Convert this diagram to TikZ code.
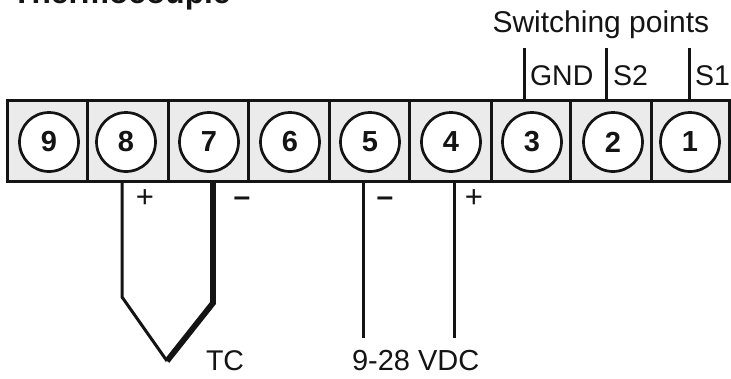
\documentclass[tikz,border=0pt]{standalone}
\usepackage{fontspec}
\setmainfont{Liberation Sans}
\definecolor{ink}{HTML}{141414}
\definecolor{cellgrey}{HTML}{EBEBEB}
\tikzset{
  cellbox/.style={draw=ink,fill=cellgrey,line width=3pt,minimum height=81pt,inner sep=0pt,outer sep=0pt},
  term/.style={circle,draw=ink,fill=white,line width=2.7pt,minimum size=59pt,inner sep=0pt,font=\fontsize{29}{29}\selectfont\bfseries,text=ink},
  wire/.style={draw=ink,line width=3pt,line join=miter},
  heavy/.style={draw=ink,line width=5.8pt,line join=miter},
  lbl/.style={anchor=base west,inner sep=0pt,outer sep=0pt,text=ink,font=\fontsize{28.5}{29}\selectfont},
  sign/.style={anchor=center,inner sep=0pt,outer sep=0pt,text=ink,font=\fontsize{31}{31}\selectfont},
  minus/.style={sign,font=\fontsize{30}{30}\selectfont\bfseries},
}
\begin{document}
\begin{tikzpicture}[x=1pt,y=-1pt]
\useasboundingbox (0,0) rectangle (731,378);
\fill[white] (0,0) rectangle (731,378);
% title
\node[anchor=base west,inner sep=0pt,text=ink,font=\fontsize{31.7}{32}\selectfont\bfseries] (title) at (12,3.5) {Thermocouple};
% terminal strip
\foreach \nm/\a/\b in {c9/7/87,c8/87/168,c7/168/248,c6/248/329,c5/329/409.5,c4/409.5/491,c3/491/570.5,c2/570.5/651,c1/651/729}{
  \pgfmathsetmacro{\w}{\b-\a}
  \pgfmathsetmacro{\m}{(\a+\b)/2}
  \node[cellbox,minimum width=\w pt] (\nm) at (\m,140.5) {};
}
\foreach \n/\x in {9/49,8/126,7/209,6/290,5/370,4/451,3/532,2/613,1/690}{
  \node[term] (t\n) at (\x,142) {\n};
}
% switching outputs
\coordinate (g0) at (524,48); \coordinate (g1) at (524,100);
\coordinate (s20) at (606,48); \coordinate (s21) at (606,100);
\coordinate (s10) at (689,48); \coordinate (s11) at (689,100);
\draw[wire] (g0) -- (g1);
\draw[wire] (s20) -- (s21);
\draw[wire] (s10) -- (s11);
\node[lbl,font=\fontsize{30}{30}\selectfont] (sw) at (492.5,32) {Switching points};
\node[lbl] (gnd) at (530,85) {GND};
\node[lbl] (s2) at (613,85) {S2};
\node[lbl] (s1) at (695,85) {S1};
% thermocouple
\coordinate (p8) at (122,181); \coordinate (k8) at (122,297);
\coordinate (p7) at (213,181); \coordinate (k7) at (213,303);
\coordinate (tip) at (167,361);
\draw[wire] (p8) -- (k8) -- (tip);
\draw[heavy] (p7) -- (k7) -- (tip);
\node[sign] (tp) at (145,199) {+};
\node[minus] (tm) at (242,202) {–};
\node[lbl] (tc) at (206,370) {TC};
% supply
\coordinate (p5) at (363,181); \coordinate (e5) at (363,338);
\coordinate (p4) at (454,181); \coordinate (e4) at (454,338);
\draw[wire] (p5) -- (e5);
\draw[wire] (p4) -- (e4);
\node[minus] (vm) at (385,202) {–};
\node[sign] (vp) at (474,199) {+};
\node[lbl,font=\fontsize{29}{29}\selectfont] (vdc) at (352,370) {9-28 VDC};
\end{tikzpicture}
\end{document}
